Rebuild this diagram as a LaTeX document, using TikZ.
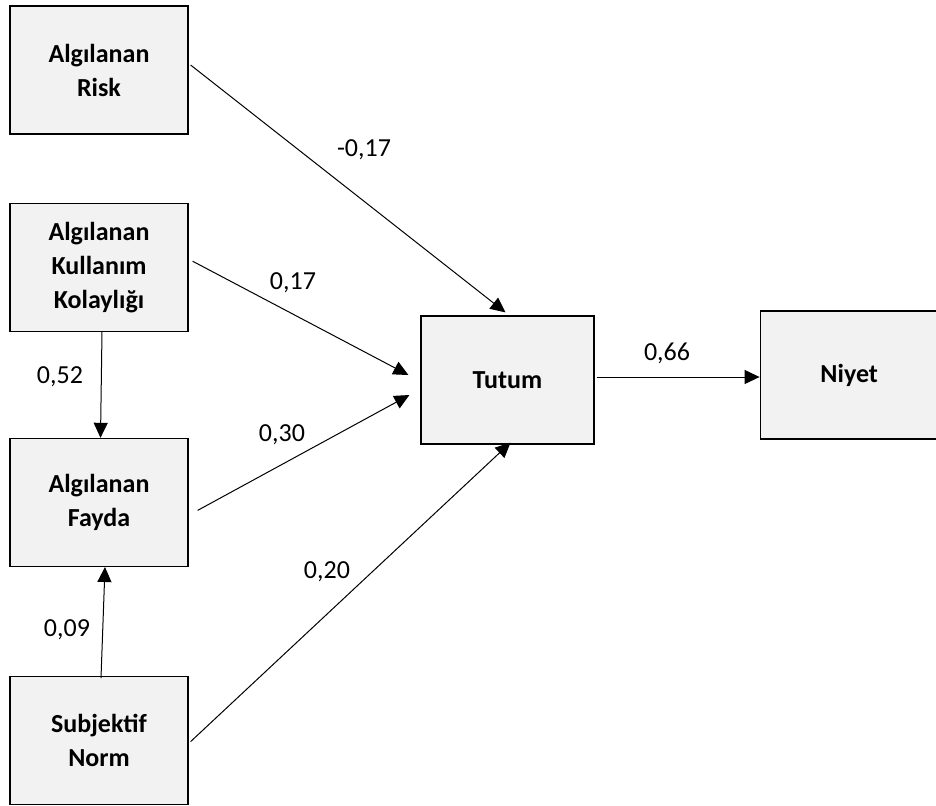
\documentclass[tikz,border=0pt]{standalone}
\usepackage{fontspec}
\setmainfont{Carlito}
\usetikzlibrary{arrows.meta,positioning,calc}
\tikzset{main base/.style={draw,thick,text centered, }, }
\tikzset{main node/.style={rectangle, draw,main base,fill=black!5,line width=0.6pt,
    minimum width=89pt, minimum height=64pt, align=center,
    font=\fontsize{13}{17}\selectfont\bfseries}, }
\tikzset{main verb/.style={font=\fontsize{13}{17}\selectfont}, }
\tikzset{linea/.style={-{Triangle[length=7.5pt,width=7pt]},line width=0.5pt,draw}}

\begin{document}
\begin{tikzpicture}[x=0.5pt,y=-0.5pt]
  \useasboundingbox (0,0) rectangle (936,805);
    \node[main node] (risk) at (99,70) {Algılanan\\Risk};
    \node[main node] (kolay) [below=34pt of risk] {Algılanan\\Kullanım\\Kolaylığı};
    \node[main node] (fayda) [below=53pt of kolay] {Algılanan\\Fayda};
    \node[main node] (norm) [below=54.5pt of fayda] {Subjektif\\Norm};
%    
    \node[main node, minimum width=86.5pt] (tutum) at (507.5,380) {Tutum};
    \node[main node] (niyet) [right=82.5pt of tutum, yshift=2.5pt] {Niyet};
%    
    \node[main verb] (l1) at (364,150) {-0,17};
    \node[main verb] (l2) at (293,283) {0,17};
    \node[main verb] (l3) at (282,435) {0,30};
    \node[main verb] (l4) at (327,572) {0,20};
    \node[main verb] (l5) at (667,353) {0,66};
    \node[main verb] (l6) at (60,377) {0,52};
    \node[main verb] (l7) at (67,630) {0,09};
%
  \path[linea] ($(risk.east)+(2,-5)$) -- ($(tutum.north)+(-2,-3)$);
  \path[linea] ($(kolay.east)+(4,-6)$) -- ($(tutum.west)+(-12,-5)$);
  \path[linea] ($(fayda.east)+(9,8)$) -- ($(tutum.west)+(-11,15)$);
  \path[linea] ($(norm.east)+(2,1)$) -- ($(tutum.south)+(3,-2)$);
  \path[linea] ($(tutum.east)+(2,-3)$) -- ($(niyet.west)+(0,2)$);
  \path[linea] ($(kolay.south)+(3,0)$) -- ($(fayda.north)+(1.5,0)$);
  \path[linea] ($(norm.north)+(2,2)$) -- ($(fayda.south)+(6,0)$);
%  
\end{tikzpicture}
\end{document}
